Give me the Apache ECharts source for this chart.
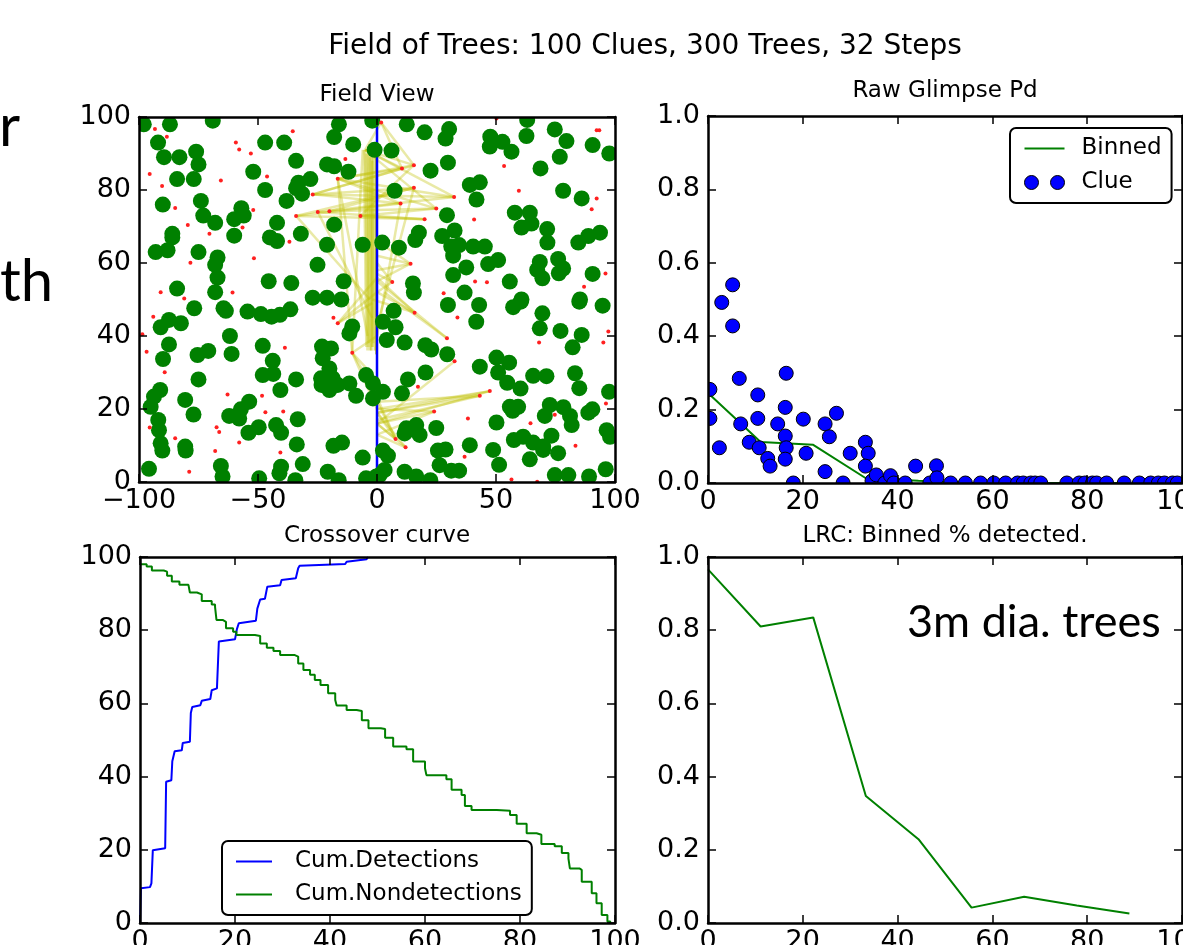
<!DOCTYPE html>
<html>
<head>
<meta charset="utf-8">
<script src="https://cdn.jsdelivr.net/npm/echarts@6/dist/echarts.min.js"></script>
<style>
html,body{margin:0;padding:0;background:#fff;overflow:hidden;}
#c{width:1183px;height:945px;}
</style>
</head>
<body>
<div id="c"></div>
<script>
// ---------------- DATA ----------------
const mainTitle = 'Field of Trees: 100 Clues, 300 Trees, 32 Steps';
const panelTitles = ['Field View', 'Raw Glimpse Pd', 'Crossover curve', 'LRC: Binned % detected.'];

// Field view: tree centres (m)
const trees = [
[-98,98],[-87,98],[-69,99],[-16,98],[-2,99],
[-92,93],[-89.5,89],[-83,89],[-76,90.5],[-75,87],[-84,83],[-77,83],
[-47,93],[-39,93],[-34,88],[-52,85],[-21,87],[-18,86.5],[-12,85],[-10,92.5],[-18,94.5],
[-47,80],[-38,77],[-33,82],[-28,83],[-34,80.5],[-31.5,79],
[-90,76],[-74,77],[-73,73],[-68,71],[-57,75],[-56,73],[-60,72],[-60,67.5],
[-86,68],[-86,67],[-93,63],[-88,63.5],[-75,63],[-67,61.5],[-68,59.5],[-67,56],
[-42,71],[-45,67],[-42,66],[-32,68],[-21,65],[-6,65],[-25,59.5],[-18,70.5],
[-45.5,55],[-36,54.5],[-14,55],[-84,53],[-68,52],[-27,50.5],[-21,50.5],[-15,50],[-1,91],
[12.5,98],[20,95.8],[30.3,96.7],[28.8,94.1],[47.6,94.6],[47.4,91.9],[52.7,93.2],[56.5,90.5],[63.1,99.2],[62.8,94.8],[74.7,96.6],[79.6,93.4],[76.8,89.1],[90.6,92.3],[97.6,90],
[6.1,90.8],[29.8,87.5],[22.5,85.3],[68.7,85.9],[7.4,79.8],[39,81.4],[43.2,82.1],[41.8,77.4],[78.2,79.8],[86,77.7],
[29.4,73.1],[57.9,73.8],[64.2,73.8],[64.9,70.8],[60.7,69.7],[71.5,69.3],[71.6,65.6],
[17.6,68.3],[16.1,66.3],[2.2,65.6],[9.2,64.2],[27.4,67.4],[32.6,68.9],[31.2,64.5],[34.5,64.9],[32,62],[40.4,64.5],[45.3,64.5],[50.9,60.8],[46.7,59.7],[37.5,58.8],[32,56.7],
[55.8,54.9],[68.4,60.3],[67.3,58.1],[69.5,55.8],[76.1,61.1],[78.2,58.5],[76.4,57.2],[84.6,65.6],[88.8,67.4],[93.7,68.3],[90.6,57],
[15.1,54.4],[15.5,51.9],[36.8,51.9],[60.7,50],[85.3,50],
[-76.8,47.6],[-63.5,46.9],[-64.5,47.6],[-54.4,46.7],[-48.8,46],[-44.3,45.3],[-40.8,45.8],[-36.4,47.3],
[-87.4,44.4],[-90.9,42.4],[-82.4,43.5],[-61.8,40],[-10.4,42.6],[-11.6,40.7],
[-87.4,37.7],[-89.9,33.7],[-75.4,34.8],[-70.9,35.9],[-61.1,35.1],[-48,37.3],[-43.8,33.2],[-48,29.3],[-43.6,29.6],
[-23.1,37.1],[-19.3,36.6],[-22.8,33.9],[-20,31.1],[-23.5,28.4],[-23.3,26.6],[-18.6,28.4],[-16.5,26.6],[-20,25.2],[-11.6,27],[-4.6,29.3],[-1.7,27],[-8.8,23.6],[-1.7,22.9],
[-75,28.1],[-34,28.1],[-40.6,25.2],[-91.1,25.2],[-93.7,23.4],[-95.1,20.6],[-80.6,22.5],[-77.1,18.5],
[-53.7,22],[-57.2,19.9],[-62.1,18.1],[-57.9,17.4],[-54,13.5],[-49.7,15],[-42.4,15.6],[-40.3,13.5],[-33.3,17.2],
[-91.9,17],[-91.6,14.2],[-90.9,10.6],[-90.2,8.6],[-80.6,9.7],[-80.4,8.6],[-33.7,10.3],[-18.3,9.9],[-14.7,10.8],
[-31.2,4.9],[-40.3,4.2],[-41,2.4],[-95.8,3.6],[-65.6,4.4],[-64.9,1.5],[-49.5,1],[-34.3,0.5],[-20.7,2.8],[-16.1,0.5],[-6,6.7],[-4.6,1],[-0.3,1.5],
[29.8,48.5],[42.9,48.5],[41.7,43.9],[57.2,47.9],[60.4,49.4],[69.5,46.2],[68.4,42.1],[77.1,41.4],[86,40.3],[82.2,36.9],[85,49.4],[94.8,48.3],
[7,46.9],[2.5,43.9],[7.8,42.4],[4.1,38.9],[11.6,38.2],[20.3,37.5],[22.8,36.3],[29.5,35],
[43.2,31.6],[50.2,34.1],[55.5,32.7],[50.9,30],[54.7,27.2],[60.3,25.6],[65.6,29.1],[71.2,29],[83.2,29.8],[85,25.7],[97.5,24.7],
[20.4,30],[13,28.1],[10.5,24.3],[2.5,24.7],
[55.8,20.6],[59.3,20.6],[57,19.5],[72.6,21.1],[70.5,18.1],[78.3,20.5],[81.1,18.1],[81.8,15.6],[88.8,19],[90.5,19.9],[96.5,14.2],[97.9,12.4],
[50.2,16.3],[24.9,14.8],[12.3,14.7],[11.6,13.3],[16.5,15.6],[17.9,12.9],
[57.5,11.5],[61.4,12.4],[65.6,10.8],[69.8,9.7],[69.8,8.8],[73.3,12.7],[76.1,7.9],[64.2,6.2],[48.8,8.8],[51.3,4.7],[39,10.1],
[25.6,8.6],[28.8,8.9],[26.3,4.6],[31.2,3.1],[34.5,3.1],[11.6,2.8],[16.5,1.5],[22.4,0.5],[74.7,1.9],[80.4,1.9],[89.1,1.5],[96.1,3.5],
[2.5,8.6],[4.6,7.2],[3.2,3.3],[1.1,1.9]
];

// Field view: clue positions
const clues = [
[-93.3,96.7],[-88.3,94.6],[-35.4,96.1],[-59.3,93],[-57.9,91.1],[-53,90],[-95.5,84.4],[-90.3,81.1],[-65.6,82.6],[-46.2,83.7],[-84.8,75.1],[-52,74.5],[-79.5,70.4],[-70.4,68],[-56.5,69.7],[-36.8,65.8],[-51.7,61.3],[-78.4,60.1],[-90.9,52],[-81,50.3],[-60.7,51.9],[-13.3,88.5],
[1.75,98.5],[15.5,86.8],[10.5,85.9],[-16.5,83.1],[15.5,80.6],[-27,78.8],[32.4,78.1],[9.9,76.3],[24.9,74.9],[-20,74.2],[-24.9,74],[-34,72.9],[-6.95,72.9],[20,72],[14.1,59.8],[6.4,54.8],
[50.2,99.6],[92.3,96.4],[93.4,96.4],[53.4,86.6],[59.6,79.8],[92.3,77.7],[90.2,74.7],[40.8,71.9],[41.2,54.9],[46.2,54.7],[28,51.7],[87,53.5],[96,57.1],
[-94,45.3],[-18.3,45],[-98.6,40.5],[-96.8,35.7],[-38.7,36.8],[-89.2,30.1],[-62.8,24],[-48.3,23.6],[-46.9,19.1],[-39.4,19.3],[-95.5,14.9],[-67.4,15],[-66.3,13.7],[-84.8,12],[-57.9,10.8],[-68,8.5],[-40.6,8.1],[-78.9,2.8],
[-16.5,43.5],[-10.4,35.4],
[33.8,45.1],[97.2,41.2],[95.1,38.2],[68.1,38.2],[32.6,33.1],[17.2,26.1],[38.2,17.4],[64.5,16.1],[74.7,18.4],[96.2,21.5],[83.4,9.9],[36.8,6.9],[56.5,0.7],[67.3,0.1],
[15.8,46.4],[29.4,39.4],[47.4,24.9],[43.2,23.6],[24,19.3],[7.8,11.8],[12,9.5]
];

// Searcher path (x, y)
const pathPoints = [[0,0],[0,100]];

// Glimpse segments [x1, y1, x2, y2]
const glimpses = [
[-5,91,1.75,98.5],[1.75,98.5,15.5,86.8],[1.75,98.5,10.5,85.9],[-5,91,15.5,86.8],[-5,91,10.5,85.9],
[-16.5,83.1,15.5,86.8],[-16.5,83.1,10.5,85.9],[-27,78.8,15.5,86.8],[-27,78.8,10.5,85.9],[-27,78.8,15.5,80.6],
[-27,78.8,9.9,76.3],[-27,78.8,32.4,78.1],[-34,72.9,9.9,76.3],[-34,72.9,15.5,80.6],[-24.9,74,32.4,78.1],
[-20,74.2,24.9,74.9],[-20,74.2,15.5,80.6],[-16.5,83.1,32.4,78.1],[-16.5,83.1,24.9,74.9],[-6.95,72.9,20,72],
[-6.95,72.9,24.9,74.9],[-24.9,74,20,72],[-34,72.9,20,72],[-16.5,83.1,9.9,76.3],[-5,91,32.4,78.1],
[-5,91,24.9,74.9],[15.5,86.8,-6.95,72.9],
[-5,91,-4,36],[-4,90,-3,36],[-3,89,-2,37],[-2,88,-1.5,38],[-6,91,-10.4,35.4],[-16.5,83.1,-10.4,35.4],
[-16.5,83.1,-4,40],[-24.9,74,-2,45],[-34,72.9,-3,50],[15.5,80.6,1,45],[9.9,76.3,0,40],
[-5.5,91,-4.5,37],[-4.5,90,-3.5,38],[-3,91,-2.5,36],[-2,90,-2,37],[-1.5,92,-1,36],
[-0.3,92,-0.3,35],[-0.3,92,-0.3,35],[-0.2,92,-0.2,35],[-0.2,92,-0.2,35],[-0.6,91,-0.6,36],[-2.5,92,-2.5,36],[-3.5,91,-3.5,37],
[14.1,59.8,0,66],[14.1,59.8,0,62],[14.1,59.8,0,58],[14.1,59.8,0,55],
[6.4,54.8,0,60],[6.4,54.8,0,52],[6.4,54.8,0,57],
[-16.5,43.5,0,52],[-16.5,43.5,-2,49],[-16.5,43.5,0,56],
[15.8,46.4,0,52],[15.8,46.4,0,56],[15.8,46.4,-2,50],
[29.4,39.4,0,55],[29.4,39.4,3,52],[32.6,33.1,0,16],
[-10.4,35.4,0,28],[-10.4,35.4,0,24],[-10.4,35.4,0,20],[-10.4,35.4,0,40],
[47.4,24.9,0,20],[47.4,24.9,0,19],[43.2,23.6,0,19],[43.2,23.6,0,17],[47.4,24.9,0,16],[43.2,23.6,0,22],
[24,19.3,0,20],[24,19.3,0,16],[24,19.3,0,13],
[7.8,11.8,0,22],[7.8,11.8,0,19],[7.8,11.8,0,16],[7.8,11.8,-2,26],
[12,9.5,0,19],[12,9.5,0,16],[12,9.5,0,13]
];

// Raw glimpse Pd: clue range and Pd
const rawRange = [0.4,0.4,2.4,2.9,5.2,5.2,6.6,6.9,8.7,10.5,10.5,10.8,12.6,13.1,14.7,16.3,16.5,16.3,16.5,16.3,18.0,20.1,20.7,24.7,25.6,24.7,27.1,28.5,30.0,33.2,33.8,33.2,34.6,35.5,37.3,38.5,39.2,41.6,43.8,46.8,48.2,48.3,51.2,54.3,57.5,60.3,62.8,65.3,66.5,68.1,69.0,70.2,75.7,78.3,79.5,81.1,82.0,84.1,87.8,91.0,93.4,95.0,96.3,98.0,99.0];
const rawPd    = [0.255,0.176,0.096,0.492,0.540,0.428,0.285,0.161,0.111,0.240,0.176,0.096,0.067,0.046,0.161,0.206,0.299,0.128,0.096,0.065,0.0,0.174,0.081,0.161,0.126,0.031,0.190,0.0,0.081,0.111,0.081,0.046,0.006,0.022,0.0,0.020,0.0,0.0,0.046,0.0,0.047,0.014,0.0,0.0,0.0,0.0,0.0,0.0,0.0,0.0,0.0,0.0,0.0,0.0,0.0,0.0,0.0,0.0,0.0,0.0,0.0,0.0,0.0,0.0,0.0];

// Binned curves
const binX      = [0.0, 11.1, 22.2, 33.3, 44.4, 55.6, 66.7, 77.8, 88.9];
const binnedPd  = [0.245, 0.112, 0.104, 0.013, 0.006, 0.0, 0.0, 0.0, 0.0];
const lrcPd     = [0.966, 0.810, 0.835, 0.347, 0.229, 0.042, 0.072, 0.048, 0.026];

// Crossover curves [range, cumulative %]
const cumDet = [[0,0],[0.2,9.5],[2.1,9.8],[2.4,10.8],[2.7,10.8],[2.7,19.9],[5.3,20.4],[5.5,38.6],[6.6,39],[6.8,44.2],[7.3,46.9],[8.8,47.2],[9,49.2],[10.5,49.5],[10.7,57.4],[11,59],[12.7,59.5],[13,60.7],[14.8,61.2],[15.1,63.6],[16.2,64.1],[16.6,76.9],[20,77.5],[20.4,80.3],[20.8,81.9],[24.4,82.6],[24.7,85.9],[25.3,88.4],[26.3,88.6],[26.8,91.9],[29.5,92.3],[29.8,93.7],[32.8,94.2],[33.3,96.9],[33.6,97.6],[43.2,98.1],[43.5,98.7],[47.7,99.4],[48,100]];
const cumNondet = [[0,98],[1.4,97.4],[2.5,96.3],[5,96],[5.7,94.9],[6.7,93.3],[8.3,92.4],[10.2,92.2],[10.5,90.3],[12,89.8],[13,88],[15.1,87],[15.8,86.4],[16.1,82.8],[17.4,82.3],[18.1,80.5],[19.6,79.6],[20.3,78.7],[24.2,78.4],[25.3,76.4],[26.7,75.2],[28.1,74.3],[29.5,73.2],[32.6,72.8],[33.3,70.9],[34.4,69.1],[35.8,67.8],[36.8,66.4],[38,65],[39.6,62.8],[41.1,60.9],[41.4,59.4],[43.5,58.2],[45.6,57.9],[46.7,55.4],[48.1,53.2],[50.7,53],[51.6,50.6],[53.3,48.2],[56.1,47.5],[57.5,44.1],[60,42.3],[60.3,40.4],[64.5,39.3],[65.6,36.4],[67.7,35],[68.4,32],[69.8,30.9],[75.1,30.7],[77.9,29.5],[79.3,27.1],[81.4,24.5],[83.5,24.1],[84.5,21.6],[87.3,21],[88.8,19.1],[90.2,17.6],[90.5,14.9],[92.5,14.5],[93,11.3],[95.1,8.1],[96.1,5.4],[97.2,2.2],[98.4,0.4],[99,0]];

const annotation = '3m dia. trees';
const sideText = ['r', 'th'];

// ---------------- CHART ----------------
const FONT = 'DejaVu Sans';
const grids = [
  {left:139, top:117, width:476, height:365},
  {left:708, top:116, width:474, height:367},
  {left:140, top:557, width:475, height:366},
  {left:708, top:557, width:474, height:366}
];
const xRanges = [[-100,100,50],[0,100,20],[0,100,20],[0,100,20]];
const yRanges = [[0,100,20],[0,1,0.2],[0,100,20],[0,1,0.2]];

function fmtMinus(v){ return String(v).replace('-', '\u2212'); }
function fmt1(v){ return v.toFixed(1); }

const xAxes = [], yAxes = [];
grids.forEach((g, i) => {
  const xr = xRanges[i], yr = yRanges[i];
  const base = {
    gridIndex: i, type: 'value', z: 5,
    splitLine: {show:false},
    axisLine: {show:true, onZero:false, lineStyle:{color:'#000', width:2.5}},
    axisTick: {show:true, inside:true, length:8, lineStyle:{color:'#000', width:1.5}}
  };
  const xfmt = i === 0 ? fmtMinus : (v => String(v));
  const yfmt = (i === 1 || i === 3) ? fmt1 : (v => String(v));
  xAxes.push(Object.assign({}, base, {position:'bottom', min:xr[0], max:xr[1], interval:xr[2],
    axisLabel:{show:true, margin:5, fontSize:27, fontFamily:FONT, color:'#000', formatter:xfmt, showMinLabel:true, showMaxLabel:true, hideOverlap:false}}));
  xAxes.push(Object.assign({}, base, {position:'top', min:xr[0], max:xr[1], interval:xr[2], axisLabel:{show:false}}));
  yAxes.push(Object.assign({}, base, {position:'left', min:yr[0], max:yr[1], interval:yr[2],
    axisLabel:{show:true, margin:8, fontSize:27, fontFamily:FONT, color:'#000', formatter:yfmt, showMinLabel:true, showMaxLabel:true, hideOverlap:false}}));
  yAxes.push(Object.assign({}, base, {position:'right', min:yr[0], max:yr[1], interval:yr[2], axisLabel:{show:false}}));
});

const series = [
  {name:'Trees', type:'scatter', xAxisIndex:0, yAxisIndex:0, data:trees, symbolSize:16,
   itemStyle:{color:'#008000', opacity:1}, z:2, silent:true},
  {name:'Clues', type:'scatter', xAxisIndex:0, yAxisIndex:0, data:clues, symbolSize:4,
   itemStyle:{color:'#ff2020', opacity:1}, z:2, silent:true},
  {name:'Path', type:'line', xAxisIndex:0, yAxisIndex:0, data:pathPoints, symbol:'none',
   lineStyle:{color:'#0000ff', width:2.5}, z:2, silent:true},
  {name:'Glimpses', type:'lines', coordinateSystem:'cartesian2d', xAxisIndex:0, yAxisIndex:0,
   data:glimpses.map(s => ({coords:[[s[0],s[1]],[s[2],s[3]]]})),
   lineStyle:{color:'#bfbf00', width:2.5, opacity:0.35}, z:2, silent:true},
  {name:'Binned', type:'line', xAxisIndex:2, yAxisIndex:2, data:binX.map((x,k)=>[x, binnedPd[k]]),
   symbol:'none', lineStyle:{color:'#008000', width:2}, itemStyle:{color:'#008000'}, z:2},
  {name:'Clue', type:'scatter', xAxisIndex:2, yAxisIndex:2, data:rawRange.map((x,k)=>[x, rawPd[k]]),
   symbolSize:14, itemStyle:{color:'#0000ff', borderColor:'#000', borderWidth:1, opacity:1}, z:2},
  {name:'Cum.Detections', type:'line', xAxisIndex:4, yAxisIndex:4, data:cumDet, symbol:'none',
   lineStyle:{color:'#0000ff', width:2}, itemStyle:{color:'#0000ff'}, z:2},
  {name:'Cum.Nondetections', type:'line', xAxisIndex:4, yAxisIndex:4, data:cumNondet, symbol:'none', step:'end',
   lineStyle:{color:'#008000', width:2}, itemStyle:{color:'#008000'}, z:2},
  {name:'LRC', type:'line', xAxisIndex:6, yAxisIndex:6, data:binX.map((x,k)=>[x, lrcPd[k]]), symbol:'none',
   lineStyle:{color:'#008000', width:2}, z:2}
];

function txt(text, x, y, size, family, align, vAlign){
  return {type:'text', x:x, y:y, z:8, silent:true,
    style:{text:text, fontSize:size, fontFamily:family, fill:'#000',
      align:align, verticalAlign:vAlign, textAlign:align, textVerticalAlign:vAlign}};
}
function mask(x,y,w,h){ return {type:'rect', shape:{x:x,y:y,width:w,height:h}, style:{fill:'#fff'}, z:3, silent:true}; }

const graphics = [
  mask(110,95,29,410), mask(110,95,525,22), mask(615,95,22,410), mask(110,482,525,20),
  mask(688,100,20,400), mask(688,483,495,18),
  txt(mainTitle, 645, 47, 28, FONT, 'center', 'middle'),
  txt(panelTitles[0], 377, 95, 23, FONT, 'center', 'middle'),
  txt(panelTitles[1], 945, 91, 23, FONT, 'center', 'middle'),
  txt(panelTitles[2], 377, 536, 23, FONT, 'center', 'middle'),
  txt(panelTitles[3], 945, 536, 23, FONT, 'center', 'middle'),
  txt(annotation, 907, 600, 45, 'Lato', 'left', 'top'),
  txt(sideText[0], 20, 98, 58, 'Lato', 'right', 'top'),
  txt(sideText[1], 0, 253, 58, 'Lato', 'left', 'top')
];

const twoDots = 'path://M0,7a7,7 0 1,0 14,0a7,7 0 1,0 -14,0zM26,7a7,7 0 1,0 14,0a7,7 0 1,0 -14,0z';
const lineIcon = 'path://M0,0h40v2h-40z';

const option = {
  animation: false,
  backgroundColor: '#fff',
  grid: grids.map(g => Object.assign({containLabel:false, outerBoundsMode:'none'}, g)),
  xAxis: xAxes,
  yAxis: yAxes,
  legend: [
    {data:[{name:'Binned', icon:lineIcon}, {name:'Clue', icon:twoDots, itemStyle:{color:'#0000ff', borderColor:'#000', borderWidth:1}}],
     orient:'vertical', left:1010, top:128, padding:[9,10,9,14], itemGap:11, itemWidth:40, itemHeight:14,
     borderColor:'#000', borderWidth:2, borderRadius:6, backgroundColor:'#fff', z:7, selectedMode:false,
     textStyle:{fontSize:23, fontFamily:FONT, color:'#000', padding:[0,0,0,12]}},
    {data:[{name:'Cum.Detections', icon:lineIcon}, {name:'Cum.Nondetections', icon:lineIcon}],
     orient:'vertical', left:222, top:841, padding:[9,10,9,14], itemGap:10, itemWidth:36, itemHeight:14,
     borderColor:'#000', borderWidth:2, borderRadius:6, backgroundColor:'#fff', z:7, selectedMode:false,
     textStyle:{fontSize:23, fontFamily:FONT, color:'#000', padding:[0,0,0,18]}}
  ],
  graphic: graphics,
  series: series
};

const chart = echarts.init(document.getElementById('c'), null, {renderer:'canvas'});
chart.setOption(option);
</script>
</body>
</html>
